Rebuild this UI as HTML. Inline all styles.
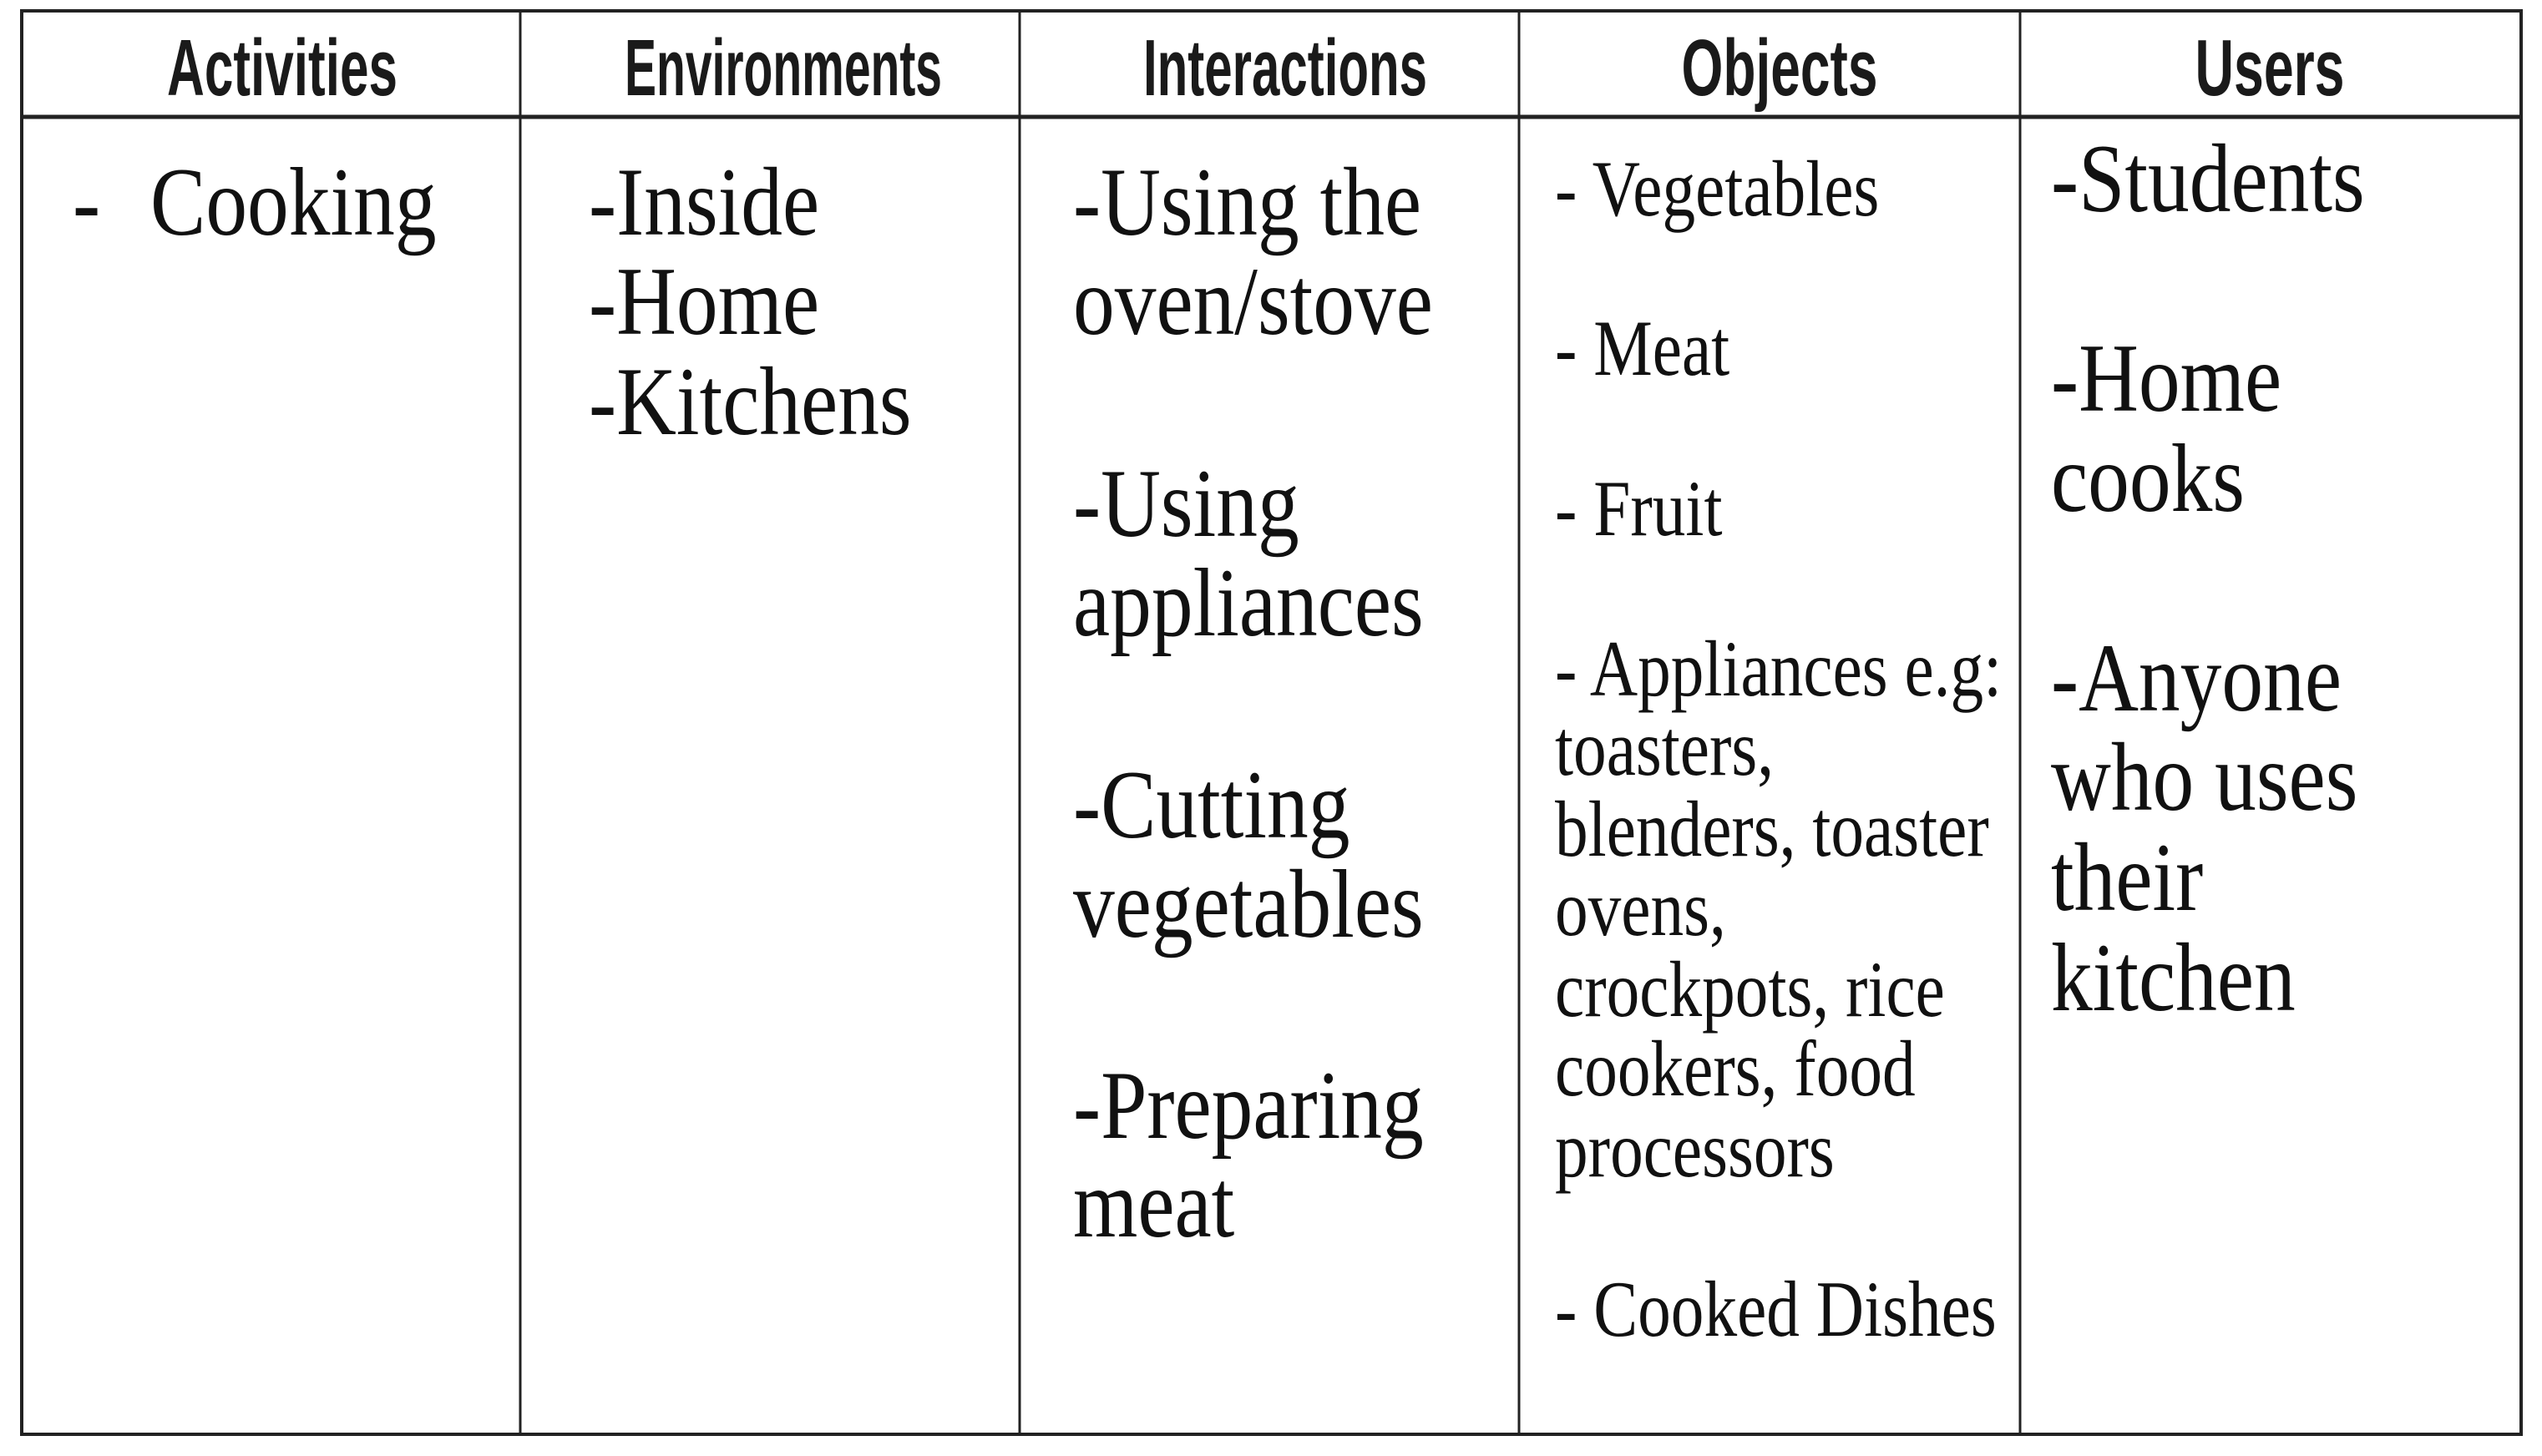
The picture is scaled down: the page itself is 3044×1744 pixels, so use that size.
<!DOCTYPE html>
<html><head><meta charset="utf-8"><style>
html,body{margin:0;padding:0;background:#fff;}
svg{display:block;}
.h{font-family:"Liberation Sans",sans-serif;font-weight:bold;font-size:96px;fill:#1a1a1a;}
.b{font-family:"Liberation Serif",serif;font-size:117px;fill:#111;}
.s{font-family:"Liberation Serif",serif;font-size:95px;fill:#111;}
</style></head><body>
<svg width="3044" height="1744" viewBox="0 0 3044 1744">
<rect x="0" y="0" width="3044" height="1744" fill="#fff"/>
<g stroke="#222" fill="none">
<rect x="26" y="13" width="2993" height="1705" stroke-width="4"/>
<line x1="26" y1="140" x2="3019" y2="140" stroke-width="5"/>
<line x1="623" y1="13" x2="623" y2="1718" stroke-width="3"/>
<line x1="1221" y1="13" x2="1221" y2="1718" stroke-width="3"/>
<line x1="1819" y1="13" x2="1819" y2="1718" stroke-width="3"/>
<line x1="2419" y1="13" x2="2419" y2="1718" stroke-width="3"/>
</g>
<g>
<text class="h" x="338" y="114" text-anchor="middle" textLength="276" lengthAdjust="spacingAndGlyphs">Activities</text>
<text class="h" x="938" y="114" text-anchor="middle" textLength="380" lengthAdjust="spacingAndGlyphs">Environments</text>
<text class="h" x="1539" y="114" text-anchor="middle" textLength="340" lengthAdjust="spacingAndGlyphs">Interactions</text>
<text class="h" x="2131" y="114" text-anchor="middle" textLength="235" lengthAdjust="spacingAndGlyphs">Objects</text>
<text class="h" x="2718" y="114" text-anchor="middle" textLength="179" lengthAdjust="spacingAndGlyphs">Users</text>
</g>
<g>
<text class="b" transform="translate(87,281) scale(0.85,1)">-</text>
<text class="b" transform="translate(180,281) scale(0.85,1)">Cooking</text>
</g>
<g>
<text class="b" transform="translate(705,281) scale(0.85,1)">-Inside</text>
<text class="b" transform="translate(705,400) scale(0.85,1)">-Home</text>
<text class="b" transform="translate(705,520) scale(0.85,1)">-Kitchens</text>
</g>
<g>
<text class="b" transform="translate(1285,281) scale(0.85,1)">-Using the</text>
<text class="b" transform="translate(1285,400) scale(0.85,1)">oven/stove</text>
<text class="b" transform="translate(1285,642) scale(0.85,1)">-Using</text>
<text class="b" transform="translate(1285,761) scale(0.85,1)">appliances</text>
<text class="b" transform="translate(1285,1003) scale(0.85,1)">-Cutting</text>
<text class="b" transform="translate(1285,1122) scale(0.85,1)">vegetables</text>
<text class="b" transform="translate(1285,1363) scale(0.85,1)">-Preparing</text>
<text class="b" transform="translate(1285,1481) scale(0.85,1)">meat</text>
</g>
<g>
<text class="s" transform="translate(1862,258) scale(0.835,1)">- Vegetables</text>
<text class="s" transform="translate(1862,449) scale(0.835,1)">- Meat</text>
<text class="s" transform="translate(1862,641) scale(0.835,1)">- Fruit</text>
<text class="s" transform="translate(1862,833) scale(0.835,1)">- Appliances e.g:</text>
<text class="s" transform="translate(1862,928) scale(0.835,1)">toasters,</text>
<text class="s" transform="translate(1862,1025) scale(0.835,1)">blenders, toaster</text>
<text class="s" transform="translate(1862,1120) scale(0.835,1)">ovens,</text>
<text class="s" transform="translate(1862,1217) scale(0.835,1)">crockpots, rice</text>
<text class="s" transform="translate(1862,1312) scale(0.835,1)">cookers, food</text>
<text class="s" transform="translate(1862,1409) scale(0.835,1)">processors</text>
<text class="s" transform="translate(1862,1600) scale(0.835,1)">- Cooked Dishes</text>
</g>
<g>
<text class="b" transform="translate(2456,253) scale(0.85,1)">-Students</text>
<text class="b" transform="translate(2456,492) scale(0.85,1)">-Home</text>
<text class="b" transform="translate(2456,612) scale(0.85,1)">cooks</text>
<text class="b" transform="translate(2456,851) scale(0.85,1)">-Anyone</text>
<text class="b" transform="translate(2456,970) scale(0.85,1)">who uses</text>
<text class="b" transform="translate(2456,1090) scale(0.85,1)">their</text>
<text class="b" transform="translate(2456,1210) scale(0.85,1)">kitchen</text>
</g>
</svg>
</body></html>
